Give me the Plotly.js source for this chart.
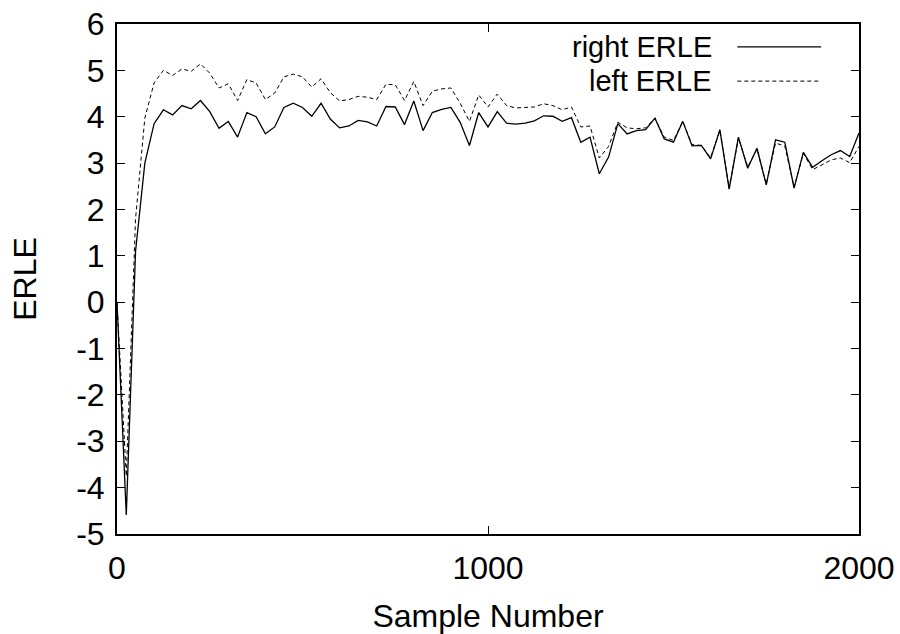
<!DOCTYPE html>
<html>
<head>
<meta charset="utf-8">
<script src="https://cdn.plot.ly/plotly-3.0.1.min.js"></script>
<style>html,body{margin:0;padding:0;background:#fff}#chart{width:900px;height:634px}</style>
</head>
<body>
<div id="chart"></div>
<script>
const sampleNumber = [0,25,50,75,100,125,150,175,200,225,250,275,300,325,350,375,400,425,450,475,500,525,550,575,600,625,650,675,700,725,750,775,800,825,850,875,900,925,950,975,1000,1025,1050,1075,1100,1125,1150,1175,1200,1225,1250,1275,1300,1325,1350,1375,1400,1425,1450,1475,1500,1525,1550,1575,1600,1625,1650,1675,1700,1725,1750,1775,1800,1825,1850,1875,1900,1925,1950,1975,2000];

const rightERLE = [0.0,-4.59,1.1,3.0,3.85,4.15,4.04,4.24,4.17,4.35,4.11,3.75,3.90,3.56,4.09,4.0,3.63,3.78,4.20,4.29,4.20,4.01,4.29,3.95,3.76,3.80,3.92,3.89,3.80,4.22,4.21,3.83,4.34,3.70,4.09,4.16,4.20,3.88,3.38,4.09,3.78,4.11,3.86,3.84,3.86,3.91,4.02,4.01,3.90,3.98,3.45,3.56,2.77,3.13,3.85,3.63,3.70,3.72,3.97,3.52,3.45,3.90,3.37,3.38,3.09,3.72,2.44,3.56,2.89,3.32,2.53,3.50,3.45,2.46,3.23,2.91,3.05,3.18,3.27,3.14,3.65];

const leftERLE = [0.0,-3.75,1.8,3.97,4.73,5.0,4.89,5.03,4.98,5.14,4.94,4.62,4.71,4.35,4.80,4.73,4.37,4.51,4.86,4.92,4.86,4.64,4.82,4.52,4.34,4.37,4.44,4.42,4.37,4.70,4.69,4.35,4.76,4.24,4.55,4.60,4.62,4.29,3.90,4.47,4.21,4.49,4.24,4.19,4.20,4.21,4.28,4.24,4.15,4.21,3.78,3.80,3.11,3.36,3.88,3.76,3.74,3.76,3.97,3.56,3.49,3.90,3.40,3.38,3.12,3.70,2.46,3.54,2.92,3.30,2.55,3.43,3.37,2.48,3.21,2.86,2.96,3.07,3.11,3.01,3.36];

const seriesNames = ['right ERLE', 'left ERLE'];
const xTicks = [0, 1000, 2000];
const yTicks = [-5,-4,-3,-2,-1,0,1,2,3,4,5,6];

const FONT = 'Liberation Sans, Arial, Helvetica, sans-serif';
const FS = 32;
const LFS = 29;

const traces = [
  {x: sampleNumber, y: rightERLE, name: seriesNames[0], type: 'scatter', mode: 'lines',
   line: {color: '#000', width: 1.3}, showlegend: false},
  {x: sampleNumber, y: leftERLE, name: seriesNames[1], type: 'scatter', mode: 'lines',
   line: {color: '#000', width: 1, dash: '4px,3px'}, showlegend: false}
];

const legX = 0.803, legL0 = 0.836, legL1 = 0.949;
const legY = [0.955, 0.888];

const layout = {
  width: 900, height: 634,
  margin: {l: 117, r: 41, t: 24, b: 100, pad: 0},
  paper_bgcolor: '#fff', plot_bgcolor: '#fff',
  font: {family: FONT, size: FS, color: '#000'},
  showlegend: false,
  xaxis: {
    range: [0, 2000], tickvals: xTicks, ticktext: xTicks.map(String),
    ticks: 'inside', ticklen: 8, tickwidth: 1, tickcolor: '#000',
    showline: true, linewidth: 2, linecolor: '#000', mirror: 'ticks',
    showgrid: false, zeroline: false, ticklabelstandoff: 5,
    tickfont: {family: FONT, size: FS},
    title: {text: 'Sample Number', font: {family: FONT, size: FS}, standoff: 22},
    automargin: false
  },
  yaxis: {
    range: [-5, 6], tickvals: yTicks, ticktext: yTicks.map(String),
    ticks: 'inside', ticklen: 8, tickwidth: 1, tickcolor: '#000',
    showline: true, linewidth: 2, linecolor: '#000', mirror: 'ticks',
    showgrid: false, zeroline: false, ticklabelstandoff: 4,
    tickfont: {family: FONT, size: FS},
    title: {text: 'ERLE', font: {family: FONT, size: FS}, standoff: 30},
    automargin: false
  },
  annotations: seriesNames.map((n, i) => ({
    text: n, xref: 'paper', yref: 'paper', x: legX, y: legY[i],
    xanchor: 'right', yanchor: 'middle', showarrow: false, borderpad: 0,
    font: {family: FONT, size: LFS, color: '#000'}
  })),
  shapes: [
    {type: 'line', xref: 'paper', yref: 'paper', x0: legL0, x1: legL1, y0: legY[0], y1: legY[0],
     line: {color: '#000', width: 1.3}},
    {type: 'line', xref: 'paper', yref: 'paper', x0: legL0, x1: legL1, y0: legY[1], y1: legY[1],
     line: {color: '#000', width: 1, dash: '4px,3px'}}
  ]
};

Plotly.newPlot('chart', traces, layout, {displayModeBar: false, staticPlot: true});
</script>
</body>
</html>
